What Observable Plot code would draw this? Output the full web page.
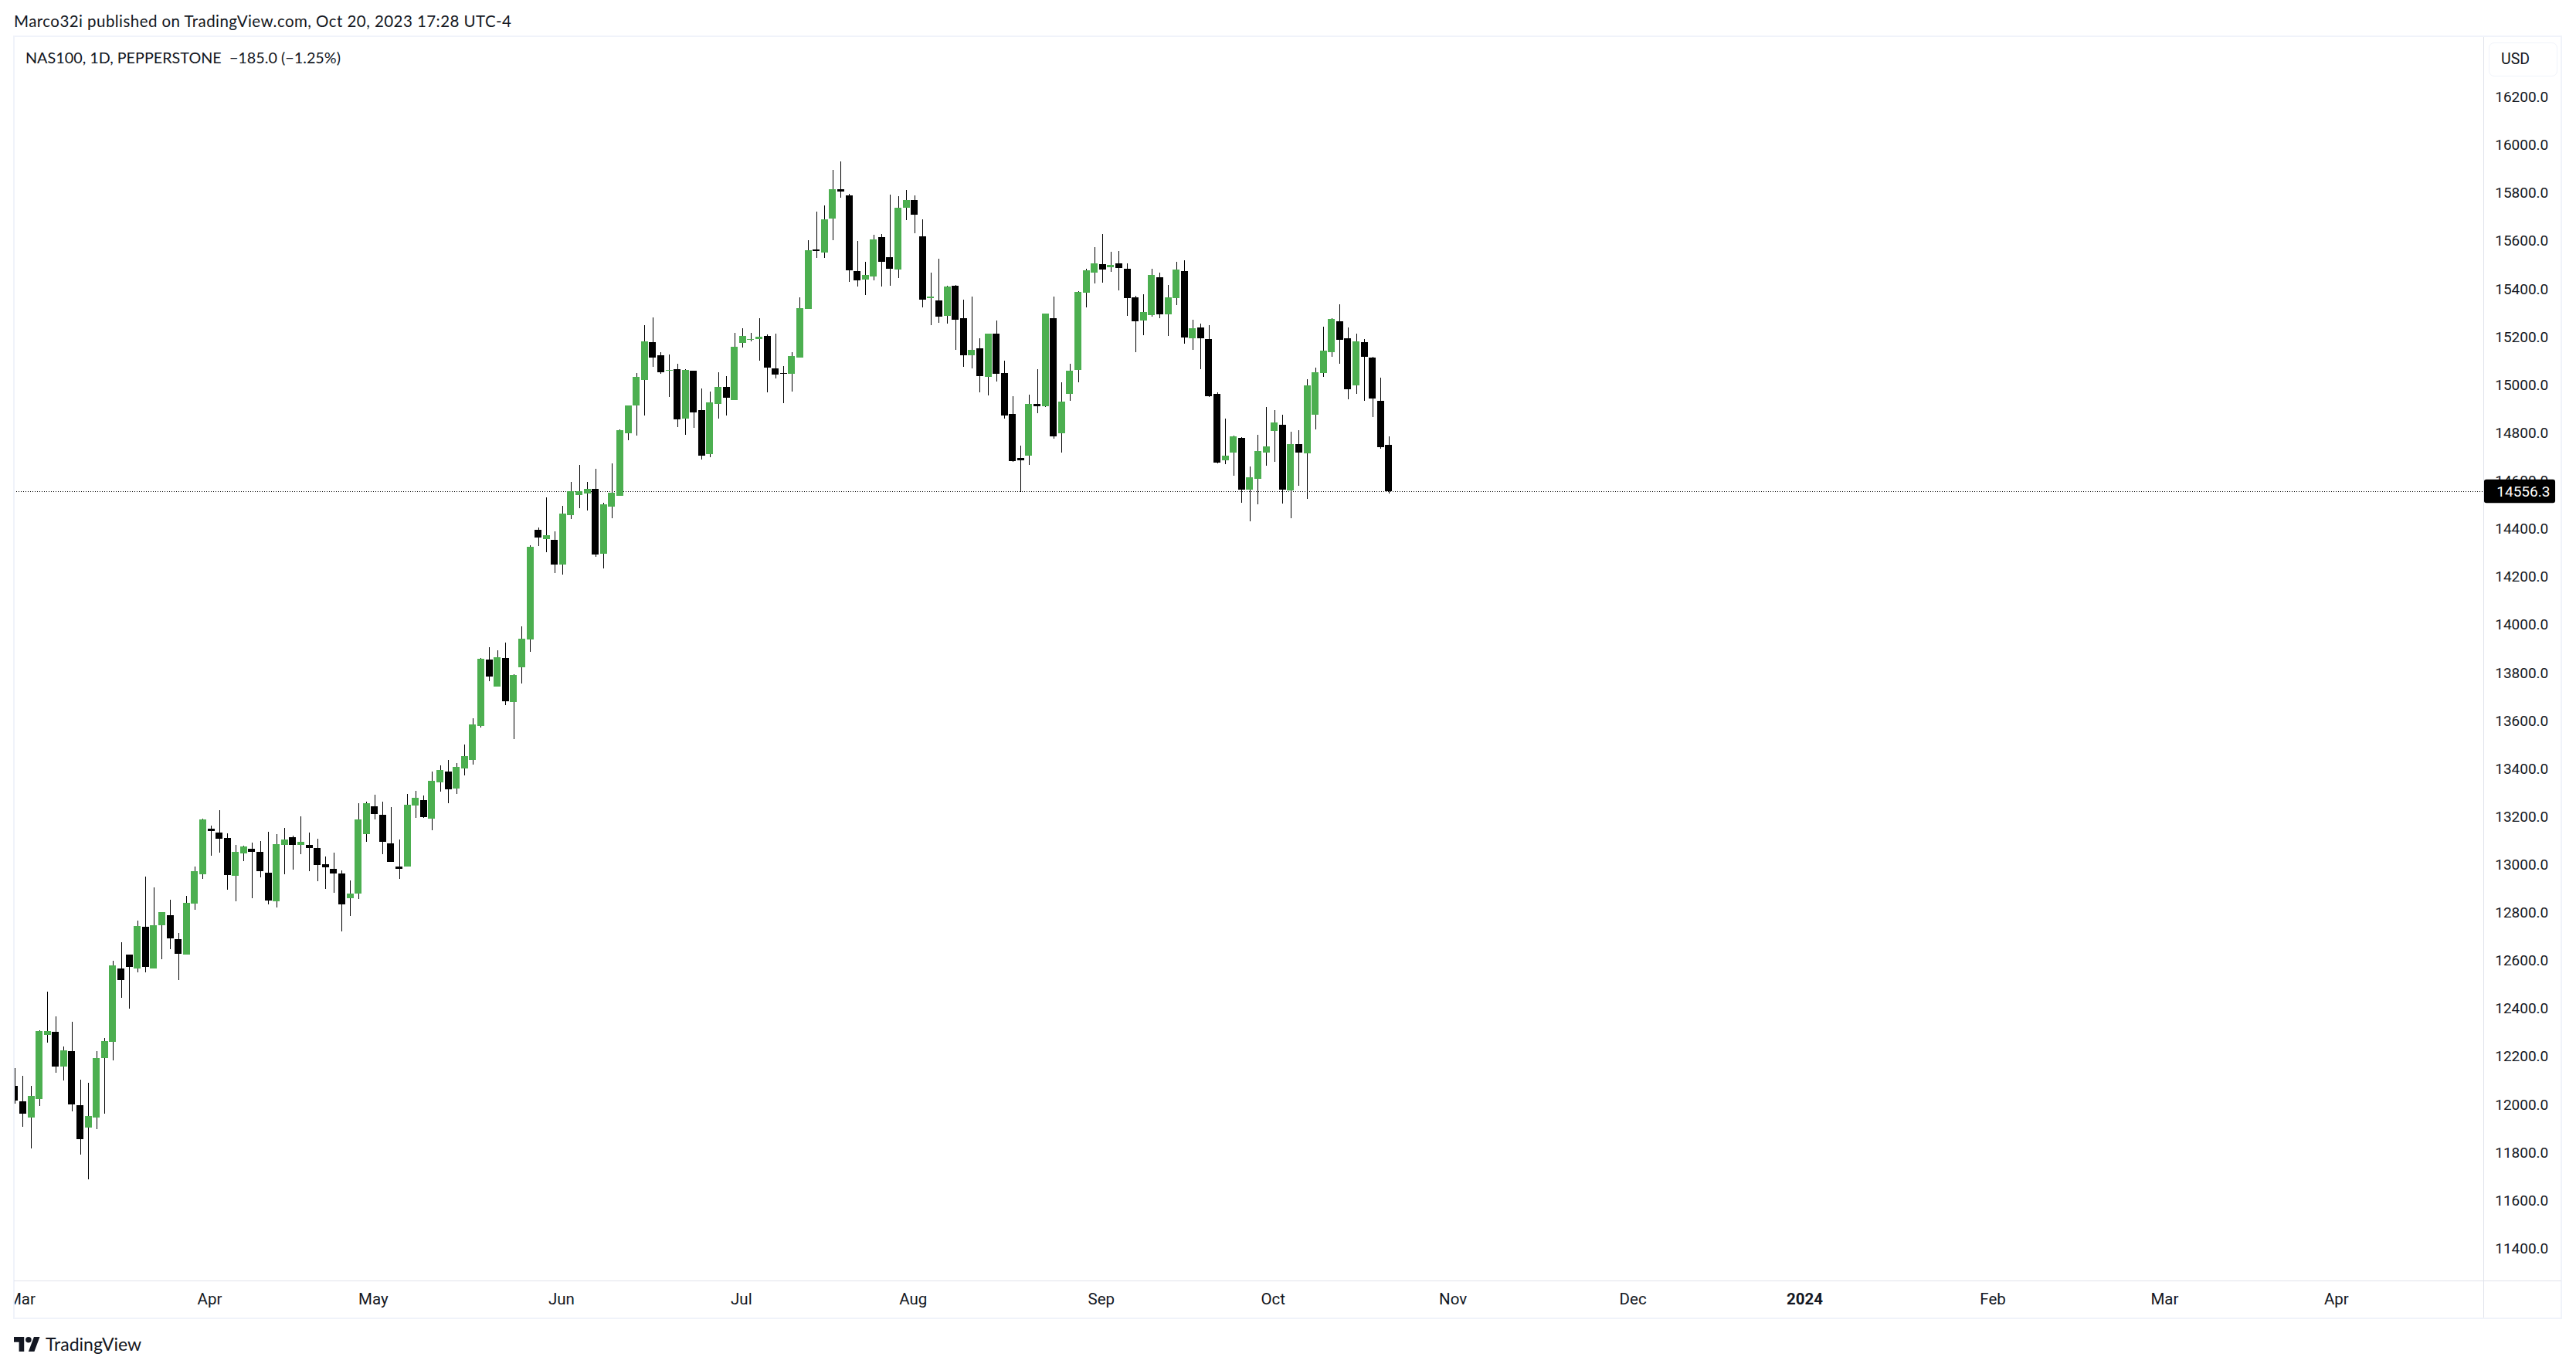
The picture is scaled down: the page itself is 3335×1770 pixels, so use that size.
<!DOCTYPE html>
<html><head><meta charset="utf-8">
<script src="https://cdn.jsdelivr.net/npm/d3@7"></script>
<script src="https://cdn.jsdelivr.net/npm/@observablehq/plot@0.6"></script>
<style>
html,body{margin:0;padding:0;background:#fff;width:3335px;height:1770px;overflow:hidden}
#wrap{position:relative;width:3335px;height:1770px;color:#131722}
#head{height:47px;font:20.5px Lato,sans-serif;letter-spacing:.44px;line-height:55px;padding-left:18px;white-space:nowrap;box-sizing:border-box}
#chart svg{display:block;background:#fff}
.ab{position:absolute;box-sizing:border-box}
#foot{position:absolute;left:18px;top:1728px;height:24px;display:flex;align-items:center;gap:7px;font:23px Lato,sans-serif}
</style></head><body>
<div id="wrap">
<div id="head">Marco32i published on TradingView.com, Oct 20, 2023 17:28 UTC-4</div>
<div id="chart"></div>
<div class="ab" style="left:0;top:1660px;width:17px;height:48px;background:#fff"></div>
<div class="ab" style="left:17px;top:46px;width:3300px;height:1662px;border:2px solid #f0f3fa"></div>
<div class="ab" style="left:18px;top:1658px;width:3298px;height:1px;background:#e0e3eb"></div>
<div class="ab" style="left:3215px;top:48px;width:1px;height:1658px;background:#e0e3eb"></div>
<div class="ab" style="left:3222px;top:55px;width:89px;height:44px;border:1px solid #f0f3fa;border-radius:7px;background:#fff;font:19.5px Roboto,sans-serif;line-height:42px;padding-left:15px">USD</div>
<div id="foot"><svg width="34" height="19" viewBox="0 0 36 20"><path fill="#131722" d="M14 20H7V7H0V0h14v20zM28 20h-8L27.500 0h8L28 20z"/><circle cx="20" cy="4" r="4" fill="#131722"/></svg><span>TradingView</span></div>
</div>
<script>
const high = [
12152,12119,12077,12309,12470,12367,12241,12345,12103,12090,
12222,12277,12599,12676,12624,12766,12950,12905,12801,12853,
12715,12869,12991,13191,13163,13227,13130,13082,13079,13091,
13098,13136,13127,13152,13120,13200,13134,13107,13034,13050,
12975,12934,13256,13263,13290,13263,13240,13104,13294,13307,
13288,13388,13413,13436,13423,13500,13610,13861,13906,13893,
13925,13793,13993,14331,14405,14531,14389,14495,14595,14666,
14595,14650,14508,14672,14814,14914,15049,15249,15281,15136,
15126,15088,15065,15059,14985,14972,15052,15036,15216,15236,
15216,15278,15210,15213,15078,15136,15365,15603,15722,15748,
15896,15931,15796,15600,15513,15625,15628,15793,15786,15812,
15789,15690,15467,15525,15413,15416,15355,15368,15194,15213,
15268,15100,14952,14746,14959,15065,15297,15368,15010,15088,
15390,15484,15574,15629,15554,15558,15506,15371,15377,15484,
15468,15416,15513,15519,15271,15255,15249,14968,14859,14788,
14782,14659,14791,14907,14894,14875,14804,14811,15023,15072,
15242,15278,15336,15239,15213,15191,15117,15030,14785];
const bodyTop = [
12077,12013,12036,12306,12306,12302,12225,12222,11996,11952,
12193,12264,12580,12567,12624,12744,12740,12747,12801,12789,
12689,12841,12973,13188,13150,13134,13111,13053,13075,13066,
13053,12966,13085,13104,13114,13095,13082,13069,13002,12982,
12962,12879,13188,13256,13243,13207,13088,12992,13249,13278,
13269,13349,13394,13388,13407,13452,13584,13858,13855,13864,
13861,13790,13941,14325,14395,14373,14354,14463,14556,14556,
14566,14566,14502,14550,14811,14914,15033,15181,15178,15123,
15062,15065,15062,15059,14894,14927,14991,14991,15158,15204,
15191,15200,15204,15068,15049,15120,15319,15561,15564,15690,
15815,15815,15789,15474,15458,15606,15616,15532,15738,15770,
15770,15619,15368,15352,15410,15413,15278,15146,15152,15213,
15213,15049,14878,14695,14920,14920,15297,15278,14930,15059,
15387,15477,15506,15503,15500,15506,15484,15365,15303,15458,
15448,15365,15480,15474,15236,15239,15191,14962,14703,14785,
14779,14614,14724,14743,14843,14833,14753,14753,14998,15052,
15142,15274,15265,15194,15181,15178,15113,14933,14750];
const bodyBottom = [
12016,11961,11945,12023,12290,12157,12157,12000,11855,11903,
11945,12193,12261,12519,12573,12567,12573,12567,12747,12692,
12628,12624,12837,12959,13140,13107,12957,12953,13046,13053,
12973,12850,12846,13082,13082,13082,13069,12998,12989,12962,
12834,12860,12879,13127,13211,13095,13011,12982,12992,13246,
13198,13191,13343,13314,13317,13401,13436,13578,13784,13742,
13681,13677,13822,13938,14363,14357,14250,14250,14457,14540,
14547,14292,14296,14492,14537,14798,14914,15020,15113,15052,
15059,14856,14859,14885,14704,14711,14920,14946,14936,15175,
15187,15191,15072,15043,15046,15046,15113,15316,15558,15551,
15693,15806,15477,15435,15439,15451,15513,15484,15480,15738,
15709,15355,15361,15284,15287,15271,15123,15123,15036,15033,
15046,14872,14682,14685,14704,14911,14911,14785,14798,14962,
15062,15384,15467,15480,15490,15487,15361,15265,15268,15290,
15294,15294,15361,15197,15194,15194,14952,14676,14685,14717,
14563,14563,14608,14717,14808,14563,14560,14717,14714,14875,
15049,15136,15187,14981,14998,15117,14943,14740,14556.3];
const low = [
12004,11907,11815,11993,12257,12132,12100,11971,11791,11688,
11896,11961,12185,12444,12399,12551,12551,12567,12605,12647,
12519,12624,12812,12941,13037,13050,12895,12846,13014,12860,
12946,12834,12821,12959,12979,13043,12973,12930,12898,12882,
12721,12785,12857,13095,13188,13043,13011,12940,12992,13194,
13194,13143,13304,13256,13294,13372,13417,13571,13764,13742,
13665,13523,13755,13887,14328,14302,14215,14209,14440,14486,
14476,14283,14234,14444,14537,14769,14788,14872,15075,15046,
14949,14824,14791,14820,14688,14698,14859,14872,14936,15155,
15181,15100,14968,15026,14923,14972,15113,15316,15529,15529,
15603,15780,15429,15410,15374,15435,15410,15413,15445,15686,
15632,15323,15249,15258,15255,15146,15075,15068,14968,14956,
15014,14859,14679,14554,14666,14882,14907,14775,14717,14933,
15010,15323,15422,15426,15471,15394,15287,15136,15207,15284,
15278,15204,15332,15171,15146,15065,14949,14672,14669,14621,
14508,14431,14502,14663,14679,14505,14444,14579,14524,14814,
15033,15117,15088,14940,14962,14933,14866,14733,14547];
const up = [
0,0,1,1,1,0,1,0,0,1,
1,1,1,0,0,1,0,1,1,0,
0,1,1,1,0,0,0,1,1,0,
0,0,1,1,0,1,0,0,0,0,
0,1,1,1,0,0,0,0,1,1,
0,1,1,0,1,1,1,1,0,1,
0,1,1,1,0,1,0,1,1,1,
1,0,1,1,1,1,1,1,0,0,
1,0,1,0,0,1,1,0,1,1,
1,1,0,0,0,1,1,1,0,1,
1,0,0,0,1,1,0,0,1,1,
0,0,1,0,1,0,0,1,0,1,
0,0,0,0,1,0,1,0,1,1,
1,1,1,0,1,0,0,0,1,1,
0,1,1,0,1,0,0,0,1,1,
0,1,1,1,1,0,1,0,1,1,
1,1,0,0,1,0,0,0,0];
const monthLabels = ["Mar","Apr","May","Jun","Jul","Aug","Sep","Oct","Nov","Dec","Feb","Mar","Apr"];
const monthBars = [1,24,44,67,89,110,133,154,176,198,242,263,284];
const yearLabel = "2024";
const yearBar = 219;
const priceTicks = [11400,11600,11800,12000,12200,12400,12600,12800,13000,13200,13400,13600,13800,14000,14200,14400,14600,14800,15000,15200,15400,15600,15800,16000,16200];
const lastPrice = 14556.3;
const lastLabel = "14556.3";
const legendText = "NAS100, 1D, PEPPERSTONE\u00a0\u00a0\u2212185.0 (\u22121.25%)";

const idx = d3.range(high.length);
const ink = "#131722";
const chart = Plot.plot({
  width: 3335, height: 1661,
  marginLeft: 18, marginRight: 119.3, marginTop: 0, marginBottom: 50,
  style: {fontFamily: "Roboto, sans-serif", color: ink, background: "#fff", overflow: "visible"},
  x: {domain: [-0.08, 301.88], axis: null},
  y: {domain: [11266, 16452.7], axis: null},
  marks: [
    Plot.ruleY([lastPrice], {stroke: "#000", strokeWidth: 1, strokeDasharray: "1,2"}),
    Plot.ruleX(idx, {x: i => i, y1: i => low[i], y2: i => high[i], stroke: "#000", strokeWidth: 1, shapeRendering: "crispEdges", clip: true}),
    Plot.rect(idx, {x1: i => i - 0.425, x2: i => i + 0.425, y1: i => bodyBottom[i], y2: i => bodyTop[i], fill: i => up[i] ? "#4caf50" : "#000", shapeRendering: "crispEdges", clip: true}),
    Plot.axisY({anchor: "right", ticks: priceTicks, tickFormat: d3.format(".1f"), tickSize: 0, tickPadding: 14, label: null, fill: ink, fontSize: 19}),
    Plot.axisX({anchor: "bottom", ticks: monthBars, tickFormat: d => monthLabels[monthBars.indexOf(d)], tickSize: 0, tickPadding: 16, label: null, fill: ink, fontSize: 20.5, dx: -2}),
    Plot.axisX({anchor: "bottom", ticks: [yearBar], tickFormat: () => yearLabel, tickSize: 0, tickPadding: 16, label: null, fill: ink, fontWeight: "bold", fontSize: 20.5, dx: -2}),
    Plot.rect([lastPrice], {x1: 301.9, x2: 310.6, y1: d => d - 49, y2: d => d + 49, fill: "#000", rx: 3}),
    Plot.text([lastLabel], {x: 303.4, y: () => lastPrice, text: d => d, textAnchor: "start", fill: "#fff", fontSize: 19}),
    Plot.text([legendText], {frameAnchor: "top-left", dx: 14.5, dy: 28, lineAnchor: "middle", text: d => d, fill: ink, fontSize: 19.8, fontFamily: "Lato, sans-serif"})
  ]
});
document.getElementById("chart").appendChild(chart);
</script>
</body></html>
